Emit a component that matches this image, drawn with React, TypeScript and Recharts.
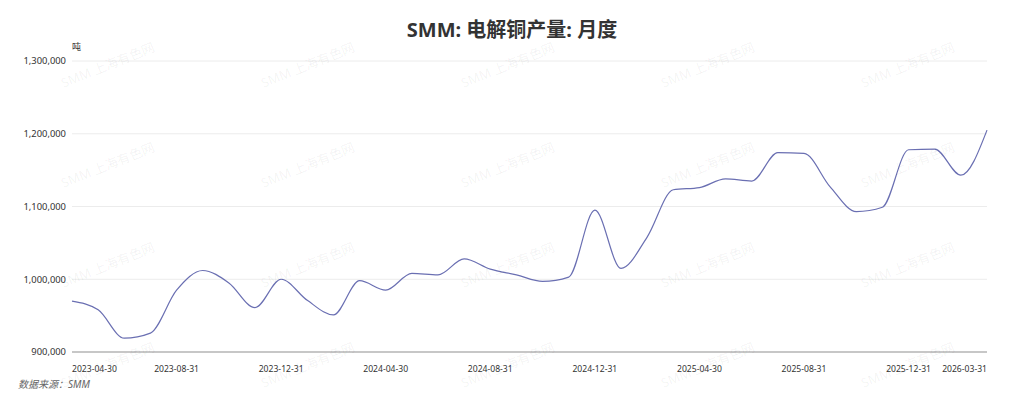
import React from 'react';
import { LineChart, Line, XAxis, YAxis, CartesianGrid } from 'recharts';

// 月份（月末日期）
const months = [
  '2023-04-30', '2023-05-31', '2023-06-30', '2023-07-31', '2023-08-31', '2023-09-30',
  '2023-10-31', '2023-11-30', '2023-12-31', '2024-01-31', '2024-02-29', '2024-03-31',
  '2024-04-30', '2024-05-31', '2024-06-30', '2024-07-31', '2024-08-31', '2024-09-30',
  '2024-10-31', '2024-11-30', '2024-12-31', '2025-01-31', '2025-02-28', '2025-03-31',
  '2025-04-30', '2025-05-31', '2025-06-30', '2025-07-31', '2025-08-31', '2025-09-30',
  '2025-10-31', '2025-11-30', '2025-12-31', '2026-01-31', '2026-02-28', '2026-03-31',
];

// 电解铜产量（吨）
const output = [
  970000, 958000, 919000, 926000, 985000, 1012000,
  995000, 961000, 1000000, 971000, 951000, 998000,
  985000, 1008000, 1006000, 1028000, 1014000, 1006000,
  997000, 1003000, 1095000, 1015000, 1058000, 1123000,
  1126000, 1138000, 1135000, 1174000, 1173000, 1127000,
  1093000, 1099000, 1178000, 1179000, 1143000, 1205000,
];

const xTickIndex = [0, 4, 8, 12, 16, 20, 24, 28, 32, 35];
const yTicks = [900000, 1000000, 1100000, 1200000, 1300000];

const data = months.map((m, i) => ({ idx: i, date: m, value: output[i] }));

const FONT = '"Noto Sans", "Noto Sans CJK SC", sans-serif';

const XTick = (props: any) => {
  const { x, y, payload } = props;
  const i = payload.value as number;
  const anchor = i === 0 ? 'start' : i === months.length - 1 ? 'end' : 'middle';
  return (
    <text x={x} y={y + 12} textAnchor={anchor} fontSize={8.6} fill="#333" fontFamily={FONT}>
      {months[i]}
    </text>
  );
};

// 水印
const marks: { x: number; y: number }[] = [];
for (let r = 0; r < 4; r++) {
  for (let c = 0; c < 5; c++) {
    marks.push({ x: 58 + c * 200, y: 74 + r * 100 });
  }
}

export default function App() {
  return (
    <div style={{ position: 'absolute', left: 0, top: 0, width: 1024, height: 399, background: '#fff', overflow: 'hidden', fontFamily: FONT }}>
      <div style={{ position: 'absolute', top: 14, width: 1024, textAlign: 'center', fontSize: 20, fontWeight: 700, color: '#333' }}>
        SMM: 电解铜产量: 月度
      </div>
      <div style={{ position: 'absolute', left: 72, top: 40, fontSize: 9, color: '#333' }}>吨</div>
      <LineChart width={1024} height={399} data={data} margin={{ top: 61, right: 37, bottom: 0, left: 0 }}>
        <CartesianGrid horizontal vertical={false} stroke="#ececec" />
        <XAxis
          dataKey="idx"
          type="number"
          domain={[0, months.length - 1]}
          ticks={xTickIndex}
          interval={0}
          height={47}
          tickLine={false}
          stroke="#999"
          tick={<XTick />}
        />
        <YAxis
          width={72}
          domain={[900000, 1300000]}
          ticks={yTicks}
          axisLine={false}
          tickLine={false}
          tickSize={0}
          tickMargin={6}
          tick={{ fontSize: 9.4, fill: '#333', fontFamily: FONT }}
          tickFormatter={(v: number) => v.toLocaleString('en-US')}
        />
        <Line
          type="monotone"
          dataKey="value"
          stroke="#6a6fb2"
          strokeWidth={1.2}
          dot={false}
          isAnimationActive={false}
        />
      </LineChart>
      {marks.map((m, i) => (
        <div
          key={i}
          style={{
            position: 'absolute', left: m.x, top: m.y, fontSize: 13, color: 'rgba(0,0,0,0.06)',
            transform: 'rotate(-22deg)', transformOrigin: 'left top', whiteSpace: 'nowrap', pointerEvents: 'none',
          }}
        >
          SMM 上海有色网
        </div>
      ))}
      <div style={{ position: 'absolute', left: 18, top: 376, fontSize: 10, fontStyle: 'italic', color: '#666' }}>
        数据来源：SMM
      </div>
    </div>
  );
}
